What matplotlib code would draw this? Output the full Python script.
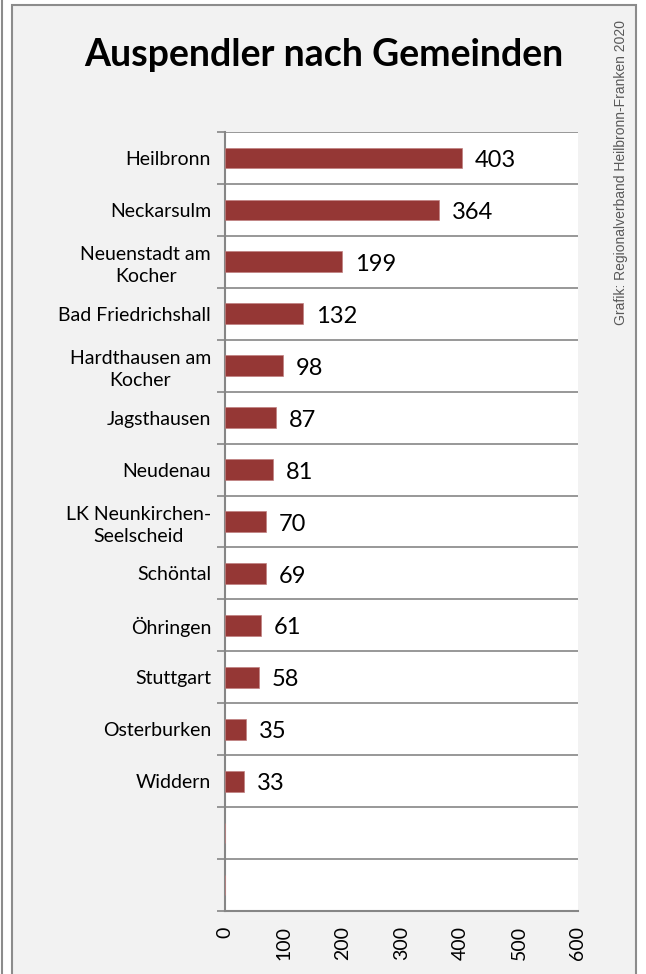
import matplotlib.pyplot as plt
from matplotlib.patches import Rectangle

# Daten
gemeinden = ['Heilbronn', 'Neckarsulm', 'Neuenstadt am\nKocher', 'Bad Friedrichshall',
             'Hardthausen am\nKocher', 'Jagsthausen', 'Neudenau', 'LK Neunkirchen-\nSeelscheid',
             'Schöntal', 'Öhringen', 'Stuttgart', 'Osterburken', 'Widdern', '', '']
auspendler = [403, 364, 199, 132, 98, 87, 81, 70, 69, 61, 58, 35, 33, None, None]
x_ticks = [0, 100, 200, 300, 400, 500, 600]

bar_color = '#953735'
grid_color = '#868686'
font = ['Lato', 'DejaVu Sans']

fig = plt.figure(figsize=(6.46, 9.74), dpi=100)
fig.patch.set_facecolor('white')

# Rahmen
fig.patches.append(Rectangle((12 / 646, -0.01), (636 - 12) / 646, (974 - 5) / 974 + 0.01,
                             transform=fig.transFigure, facecolor='#f2f2f2',
                             edgecolor='#8c8c8c', linewidth=1.5, zorder=-1))
fig.add_artist(plt.Line2D([1.5 / 646, 1.5 / 646], [0, 1], transform=fig.transFigure,
                          color='#8c8c8c', linewidth=1.5, zorder=-1))

ax = fig.add_axes([225 / 646, 1 - 911 / 974, (578 - 225) / 646, (911 - 132) / 974])
ax.set_zorder(2)
ax.set_facecolor('white')

n = len(gemeinden)
pos = list(range(n))
werte = [v if v is not None else 0 for v in auspendler]
ax.barh(pos, werte, height=0.4, color=bar_color, edgecolor='#c08080', linewidth=0.5, zorder=3)

for p, v in zip(pos, auspendler):
    if v is not None:
        ax.text(v + 22, p + 0.05, str(v), va='center', ha='left', fontsize=17,
                family=font, color='black')

ax.set_ylim(n - 0.5, -0.5)
ax.set_xlim(0, 600)
ax.set_xticks(x_ticks)
ax.set_xticklabels([str(t) for t in x_ticks], rotation=90, fontsize=14, family=font)
ax.tick_params(axis='x', length=0, pad=11)

# horizontale Gitterlinien zwischen den Kategorien
ax.set_yticks([i - 0.5 for i in range(n + 1)])
ax.set_yticklabels([])
ax.tick_params(axis='y', length=6, width=1.2, color=grid_color, direction='out')
ax.grid(axis='y', color=grid_color, linewidth=1.2, zorder=1)
ax.set_yticks(pos, minor=True)
ax.set_yticklabels(gemeinden, minor=True, fontsize=14, family=font,
                   multialignment='center', linespacing=1.35)
ax.tick_params(axis='y', which='minor', length=0, pad=10)

for s in ['top', 'right']:
    ax.spines[s].set_visible(False)
ax.spines['left'].set_color(grid_color)
ax.spines['left'].set_linewidth(1.5)
ax.spines['bottom'].set_color(grid_color)
ax.spines['bottom'].set_linewidth(1.5)

fig.text(324 / 646, 1 - 55 / 974, 'Auspendler nach Gemeinden', ha='center', va='center',
         fontsize=27, fontweight='bold', family=font)
fig.text(621 / 646, 1 - 20 / 974, 'Grafik: Regionalverband Heilbronn-Franken 2020',
         rotation=90, ha='center', va='top', fontsize=10, color='#595959',
         family=['Liberation Sans Narrow', 'Liberation Sans', 'DejaVu Sans'])

fig.savefig('out.png', dpi=100, facecolor=fig.get_facecolor())
